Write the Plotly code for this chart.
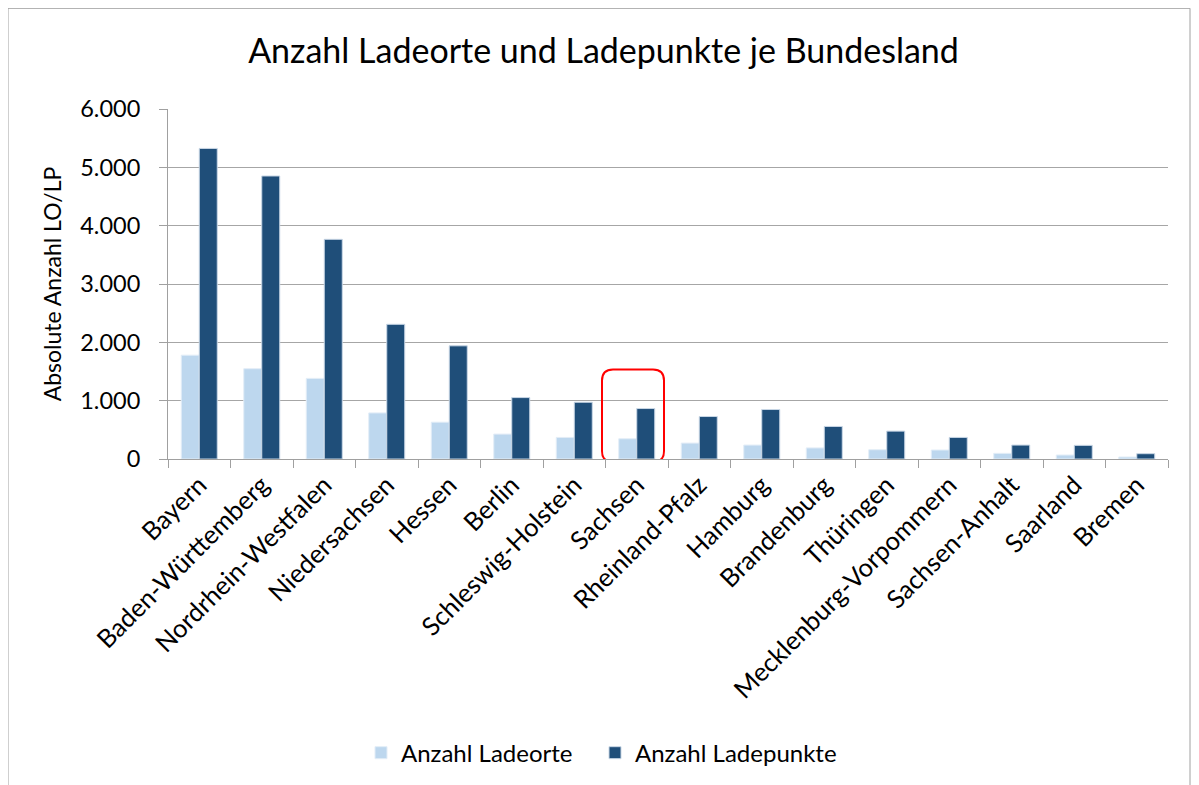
import plotly.graph_objects as go

categories = ["Bayern", "Baden-Württemberg", "Nordrhein-Westfalen", "Niedersachsen", "Hessen",
              "Berlin", "Schleswig-Holstein", "Sachsen", "Rheinland-Pfalz", "Hamburg",
              "Brandenburg", "Thüringen", "Mecklenburg-Vorpommern", "Sachsen-Anhalt",
              "Saarland", "Bremen"]
ladeorte = [1780, 1548, 1382, 790, 631, 427, 370, 347, 273, 239, 190, 159, 154, 97, 68, 34]
ladepunkte = [5324, 4852, 3766, 2309, 1940, 1053, 973, 865, 728, 848, 558, 478, 370, 239, 234, 91]
y_ticks = [0, 1000, 2000, 3000, 4000, 5000, 6000]

FONT = "Lato"
fig = go.Figure()
fig.add_trace(go.Bar(x=categories, y=ladeorte, name="Anzahl Ladeorte", legend="legend",
                     marker=dict(color="#bdd7ee", line=dict(color="#e3edf7", width=1))))
fig.add_trace(go.Bar(x=categories, y=ladepunkte, name="Anzahl Ladepunkte", legend="legend2",
                     marker=dict(color="#1f4e79", line=dict(color="#c9d7e6", width=1))))

legend_common = dict(orientation="h", xanchor="left", y=-0.835, yanchor="middle",
                     font=dict(size=24, family=FONT), itemwidth=30, bgcolor="rgba(0,0,0,0)")

fig.update_layout(
    width=1191, height=777,
    margin=dict(l=160, r=31, t=101, b=325),
    paper_bgcolor="white", plot_bgcolor="white",
    separators=",.",
    barmode="group", bargap=0.424, bargroupgap=0,
    font=dict(family=FONT, color="black", size=24),
    title=dict(text="Anzahl Ladeorte und Ladepunkte je Bundesland", x=0.5, xanchor="center",
               y=0.944, yanchor="middle", font=dict(size=34, family=FONT, color="black")),
    legend=dict(x=0.193, **legend_common),
    legend2=dict(x=0.427, **legend_common),
    showlegend=True,
)
fig.update_xaxes(type="category", showline=True, linecolor="#a0a0a0", linewidth=1,
                 ticks="outside", tickson="boundaries", ticklen=8, tickcolor="#a0a0a0",
                 tickangle=-45, tickfont=dict(size=25.5, family=FONT), showgrid=False)
fig.update_yaxes(range=[0, 6000], tickvals=y_ticks, tickformat=",d", showline=True,
                 linecolor="#a0a0a0", linewidth=1, ticks="outside", ticklen=8,
                 tickcolor="#a0a0a0", gridcolor="#a6a6a6", gridwidth=1,
                 tickfont=dict(size=23.5, family=FONT), zeroline=False, ticklabelstandoff=14,
                 title=dict(text="Absolute Anzahl LO/LP", font=dict(size=23, family=FONT), standoff=12))

# outer chart border
fig.add_shape(type="rect", xref="paper", yref="paper", x0=-0.16, x1=1.022, y0=-0.95, y1=1.2877,
              line=dict(color="#a0a0a0", width=1), fillcolor="rgba(0,0,0,0)", layer="below")

# red rounded highlight box around Sachsen (x in paper, y in data units)
x0, x1 = 0.434, 0.496
y0, y1 = -51, 1536
rx, ry = 0.011, 190
path = (f"M {x0+rx},{y1} L {x1-rx},{y1} Q {x1},{y1} {x1},{y1-ry} "
        f"L {x1},{y0+ry} Q {x1},{y0} {x1-rx},{y0} L {x0+rx},{y0} "
        f"Q {x0},{y0} {x0},{y0+ry} L {x0},{y1-ry} Q {x0},{y1} {x0+rx},{y1} Z")
fig.add_shape(type="path", xref="paper", yref="y", path=path,
              line=dict(color="#ff0000", width=2), fillcolor="rgba(0,0,0,0)")

fig.write_html("out.html")
